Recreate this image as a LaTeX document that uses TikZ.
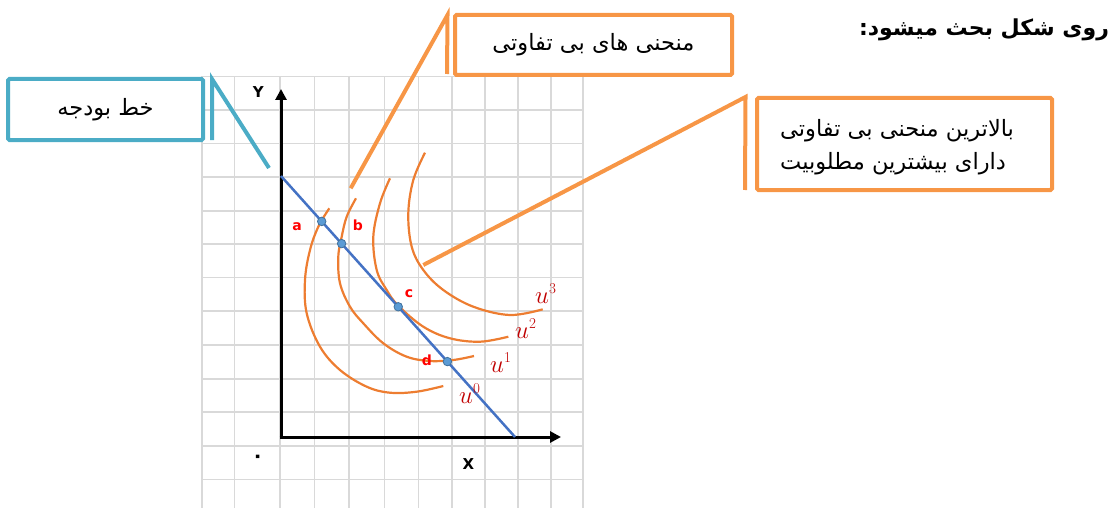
\documentclass[tikz,border=0pt]{standalone}
\usepackage{fontspec}
\usetikzlibrary{arrows.meta,calc}
\TeXXeTstate=1
\newfontfamily\arabicfont[Script=Arabic]{DejaVu Sans}
\newfontfamily\latinsans{DejaVu Sans}
\definecolor{tealc}{HTML}{4BACC6}
\definecolor{orng}{HTML}{F79646}
\definecolor{curvc}{HTML}{ED7D31}
\definecolor{bline}{HTML}{4472C4}
\definecolor{ptfill}{HTML}{5B9BD5}
\definecolor{ptdraw}{HTML}{41719C}
\definecolor{gridc}{HTML}{D9D9D9}
\definecolor{ulab}{HTML}{C00000}
\definecolor{ptlab}{HTML}{FF0000}
\begin{document}
\begin{tikzpicture}[x=1pt,y=-1pt,
  gridline/.style={draw=gridc,line width=1.6pt},
  axis/.style={draw=black,line width=3pt,-{Triangle[length=11pt,width=11pt]}},
  icurve/.style={draw=curvc,line width=2.2pt},
  budget/.style={draw=bline,line width=2.5pt},
  pt/.style={circle,fill=ptfill,draw=ptdraw,line width=0.8pt,minimum size=8.5pt,inner sep=0pt},
  ptlabel/.style={text=ptlab,font=\latinsans\bfseries\fontsize{14}{14}\selectfont,inner sep=0pt},
  axlabel/.style={font=\latinsans\bfseries\fontsize{15}{15}\selectfont,inner sep=0pt},
  ulabel/.style={text=ulab,anchor=base west,inner sep=0pt},
  tealbox/.style={draw=tealc,line width=4pt,fill=white,rounded corners=1.5pt,inner sep=0pt},
  orbox/.style={draw=orng,line width=4pt,fill=white,rounded corners=1.5pt,inner sep=0pt},
  tealline/.style={draw=tealc,line width=4pt,line join=miter},
  orline/.style={draw=orng,line width=4pt,line join=miter},
  boxtext/.style={font=\arabicfont\fontsize{22.5}{33.5}\selectfont,inner sep=0pt}
]
\useasboundingbox (0,0) rectangle (1115,508);
% grid
\foreach \gx in {201.7,234.3,280,314.3,349,384.3,418.3,451.7,485,517.7,551,582.7}
  \draw[gridline] (\gx,76.5) -- (\gx,508);
\foreach \gy in {76.5,110,143.5,177,210.7,244,277.5,311,345,379,412,445.7,479.3}
  \draw[gridline] (201.7,\gy) -- (582.7,\gy);
% axes
\coordinate (O) at (281,437);
\coordinate (ytip) at (281,89);
\coordinate (xtip) at (561,437);
\draw[axis] (281,438.5) -- (ytip);
\draw[axis] (279.5,437) -- (xtip);
\node[axlabel] (ylab) at (258.3,91.7) {Y};
\node[axlabel] (xlab) at (468.3,463.7) {X};
\node[font=\arabicfont\bfseries\fontsize{20}{20}\selectfont,inner sep=0pt] (zero) at (257.7,459) {۰};
% indifference curves
\draw[icurve] plot[smooth,tension=0.6] coordinates {(329.3,208.3) (318.3,226.7) (310,250) (305,280) (306.7,313.3) (320,346.7) (340,370) (366.7,386.7) (390,392.7) (416.7,391.7) (443.3,386)};
\draw[icurve] plot[smooth,tension=0.6] coordinates {(356,198.3) (346.7,216.7) (341.7,236.7) (338.3,256.7) (340,283.3) (350,306.7) (363.3,323.3) (383.3,343.3) (406.7,356.7) (430,361) (453.3,360) (474,356)};
\draw[icurve] plot[smooth,tension=0.6] coordinates {(390,178.3) (380,203.3) (373.3,236.7) (376.7,270) (386.7,290) (398.3,305.7) (423.3,326.7) (450,338.3) (480,341.7) (508.3,336.7)};
\draw[icurve] plot[smooth,tension=0.6] coordinates {(425,152.7) (413.3,180) (408.3,213.3) (411.7,246.7) (423.3,270) (443.3,290) (473.3,306.7) (510,315) (542.7,309.3)};
% budget line
\coordinate (B1) at (281,176);
\coordinate (B2) at (515,437);
\draw[budget] (B1) -- (B2);
\node[pt] (a) at ($(B1)!0.174!(B2)$) {};
\node[pt] (b) at ($(B1)!0.259!(B2)$) {};
\node[pt] (c) at ($(B1)!0.501!(B2)$) {};
\node[pt] (d) at ($(B1)!0.711!(B2)$) {};
\node[ptlabel] (la) at (297,227) {a};
\node[ptlabel] (lb) at (358,225) {b};
\node[ptlabel] (lc) at (409,294) {c};
\node[ptlabel] (ld) at (427,360) {d};
% utility labels
\node[ulabel] (u3) at (535,303) {\fontsize{27}{27}\selectfont$u$\raisebox{10pt}{\fontsize{15}{15}\selectfont 3}};
\node[ulabel] (u2) at (515,338) {\fontsize{27}{27}\selectfont$u$\raisebox{10pt}{\fontsize{15}{15}\selectfont 2}};
\node[ulabel] (u1) at (490,372) {\fontsize{27}{27}\selectfont$u$\raisebox{10pt}{\fontsize{15}{15}\selectfont 1}};
\node[ulabel] (u0) at (459,403) {\fontsize{27}{27}\selectfont$u$\raisebox{10pt}{\fontsize{15}{15}\selectfont 0}};
% teal callout
\node[tealbox,minimum width=195pt,minimum height=61pt] (tbox) at (105.5,109.5) {};
\node[boxtext] (ttext) at (tbox.center) {\beginR خط بودجه\endR};
\coordinate (t1) at (212,140);
\coordinate (t2) at (212,79);
\coordinate (t3) at (269,168);
\draw[tealline] (t1) -- (t2) -- (t3);
% orange callout 1
\node[orbox,minimum width=277pt,minimum height=60pt] (obox1) at (593.5,45) {};
\node[boxtext] (otext1) at (obox1.center) {\beginR منحنی های بی تفاوتی\endR};
\coordinate (p1) at (447,74);
\coordinate (p2) at (447.5,15);
\coordinate (p3) at (350.7,188.3);
\draw[orline] (p1) -- (p2) -- (p3);
% orange callout 2
\node[orbox,minimum width=295pt,minimum height=92pt] (obox2) at (904.5,144) {};
\node[boxtext,align=left,anchor=west] (otext2) at (780,147) {\beginR بالاترین منحنی بی تفاوتی\endR\\ \beginR دارای بیشترین مطلوبیت\endR};
\coordinate (q1) at (745,190);
\coordinate (q2) at (745.5,97);
\coordinate (q3) at (423.3,265);
\draw[orline] (q1) -- (q2) -- (q3);
% title
\node[font=\arabicfont\bfseries\fontsize{22}{22}\selectfont,inner sep=0pt] (title) at (984,30) {\beginR روی شکل بحث میشود:\endR};
\end{tikzpicture}
\end{document}
